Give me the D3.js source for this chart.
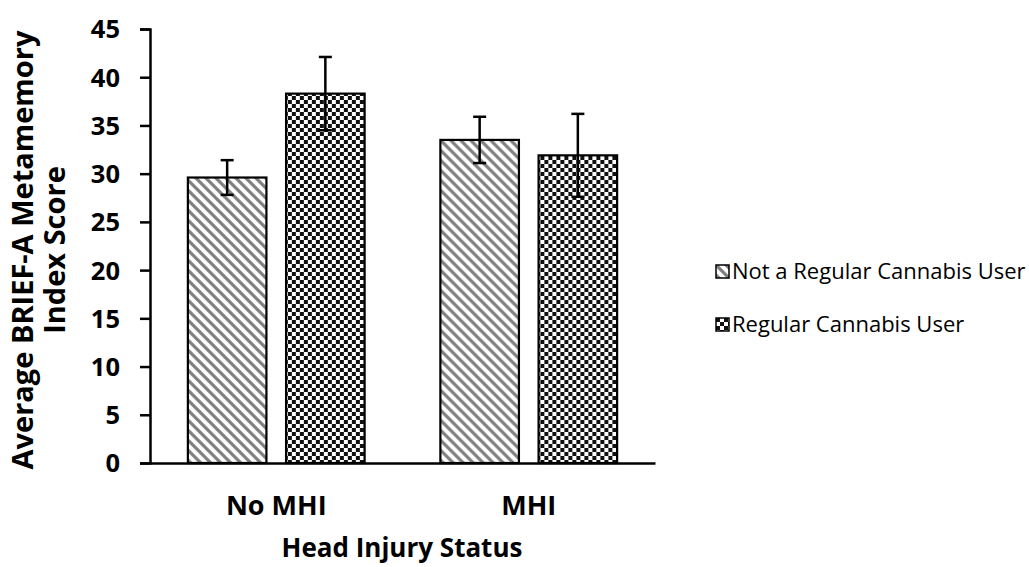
<!DOCTYPE html>
<html>
<head>
<meta charset="utf-8">
<script src="https://cdn.jsdelivr.net/npm/d3@7"></script>
<style>
  html, body { margin: 0; padding: 0; background: #fff; }
  svg { display: block; }
  text { font-family: "Open Sans", sans-serif; }
</style>
</head>
<body>
<svg id="chart" width="1029" height="567"></svg>
<script>
const categories = ["No MHI", "MHI"];
const seriesNames = ["Not a Regular Cannabis User", "Regular Cannabis User"];
const notRegularMeans = [29.6, 33.5];
const notRegularErrors = [1.8, 2.4];
const regularMeans = [38.3, 31.9];
const regularErrors = [3.8, 4.3];
const yTicks = [0, 5, 10, 15, 20, 25, 30, 35, 40, 45];

const svg = d3.select("#chart");
const defs = svg.append("defs");

const stripe = defs.append("pattern").attr("id", "stripe")
  .attr("patternUnits", "userSpaceOnUse").attr("width", 10).attr("height", 10);
stripe.append("rect").attr("width", 10).attr("height", 10).attr("fill", "#fff");
stripe.append("path").attr("d", "M-2,-2 L12,12 M-2,8 L2,12 M8,-2 L12,2")
  .attr("stroke", "#808080").attr("stroke-width", 3.2);

const checker = defs.append("pattern").attr("id", "checker")
  .attr("patternUnits", "userSpaceOnUse").attr("width", 8).attr("height", 8);
checker.append("rect").attr("width", 8).attr("height", 8).attr("fill", "#fff");
checker.append("rect").attr("width", 4).attr("height", 4).attr("fill", "#111");
checker.append("rect").attr("x", 4).attr("y", 4).attr("width", 4).attr("height", 4).attr("fill", "#111");

const fills = ["url(#stripe)", "url(#checker)"];

const y = d3.scaleLinear().domain([0, 45]).range([463, 29]);
const x0 = d3.scaleBand().domain(categories).range([150, 655]).paddingInner(0.3).paddingOuter(0.15);
const x1 = d3.scaleBand().domain(seriesNames).range([0, x0.bandwidth()]).paddingInner(0.2);

const data = categories.map((c, i) => ({
  cat: c,
  vals: [
    { s: seriesNames[0], v: notRegularMeans[i], e: notRegularErrors[i], f: fills[0] },
    { s: seriesNames[1], v: regularMeans[i], e: regularErrors[i], f: fills[1] }
  ]
}));

const groups = svg.append("g").selectAll("g").data(data).join("g")
  .attr("transform", d => `translate(${x0(d.cat)},0)`);

groups.selectAll("rect").data(d => d.vals).join("rect")
  .attr("x", d => x1(d.s))
  .attr("y", d => y(d.v))
  .attr("width", x1.bandwidth())
  .attr("height", d => y(0) - y(d.v))
  .attr("fill", d => d.f)
  .attr("stroke", "#000").attr("stroke-width", 2.2);

const eb = groups.selectAll("g.err").data(d => d.vals).join("g").attr("class", "err");
const cx = d => x1(d.s) + x1.bandwidth() / 2;
eb.append("line")
  .attr("x1", cx).attr("x2", cx)
  .attr("y1", d => y(d.v - d.e)).attr("y2", d => y(d.v + d.e))
  .attr("stroke", "#000").attr("stroke-width", 2.5);
eb.append("line")
  .attr("x1", d => cx(d) - 6.5).attr("x2", d => cx(d) + 6.5)
  .attr("y1", d => y(d.v + d.e)).attr("y2", d => y(d.v + d.e))
  .attr("stroke", "#000").attr("stroke-width", 2.5);
eb.append("line")
  .attr("x1", d => cx(d) - 6.5).attr("x2", d => cx(d) + 6.5)
  .attr("y1", d => y(d.v - d.e)).attr("y2", d => y(d.v - d.e))
  .attr("stroke", "#000").attr("stroke-width", 2.5);

const yAxis = svg.append("g").attr("transform", "translate(150,0)")
  .call(d3.axisLeft(y).tickValues(yTicks).tickSize(10).tickPadding(20));
yAxis.select(".domain").attr("stroke", "#000").attr("stroke-width", 2.5);
yAxis.selectAll(".tick line").attr("stroke", "#000").attr("stroke-width", 2.5);
yAxis.selectAll(".tick text").attr("font-family", "'Open Sans', sans-serif")
  .attr("font-size", 25.5).attr("font-weight", "bold").attr("fill", "#000").attr("dy", "0.35em");

const xAxis = svg.append("g").attr("transform", `translate(0,${y(0)})`)
  .call(d3.axisBottom(x0).tickSize(0).tickPadding(30).tickSizeOuter(0));
xAxis.select(".domain").attr("stroke", "#000").attr("stroke-width", 2.5);
xAxis.selectAll(".tick text").attr("font-family", "'Open Sans', sans-serif")
  .attr("font-size", 27).attr("font-weight", "bold").attr("fill", "#000")
  .attr("y", 0).attr("dy", 52);

svg.append("text").attr("transform", "translate(33,250) rotate(-90)")
  .attr("text-anchor", "middle").attr("font-size", 29).attr("font-weight", "bold")
  .text("Average BRIEF-A Metamemory");
svg.append("text").attr("transform", "translate(65,250) rotate(-90)")
  .attr("text-anchor", "middle").attr("font-size", 29).attr("font-weight", "bold")
  .text("Index Score");
svg.append("text").attr("x", 402).attr("y", 557)
  .attr("text-anchor", "middle").attr("font-size", 26).attr("font-weight", "bold")
  .text("Head Injury Status");

const legend = svg.append("g").selectAll("g").data(seriesNames).join("g")
  .attr("transform", (d, i) => `translate(716,${265 + i * 53})`);
legend.append("rect").attr("width", 13).attr("height", 13)
  .attr("fill", (d, i) => fills[i]).attr("stroke", "#000").attr("stroke-width", 1.5);
legend.append("text").attr("x", 16).attr("y", 14)
  .attr("font-size", 22).attr("fill", "#000").text(d => d);
</script>
</body>
</html>
